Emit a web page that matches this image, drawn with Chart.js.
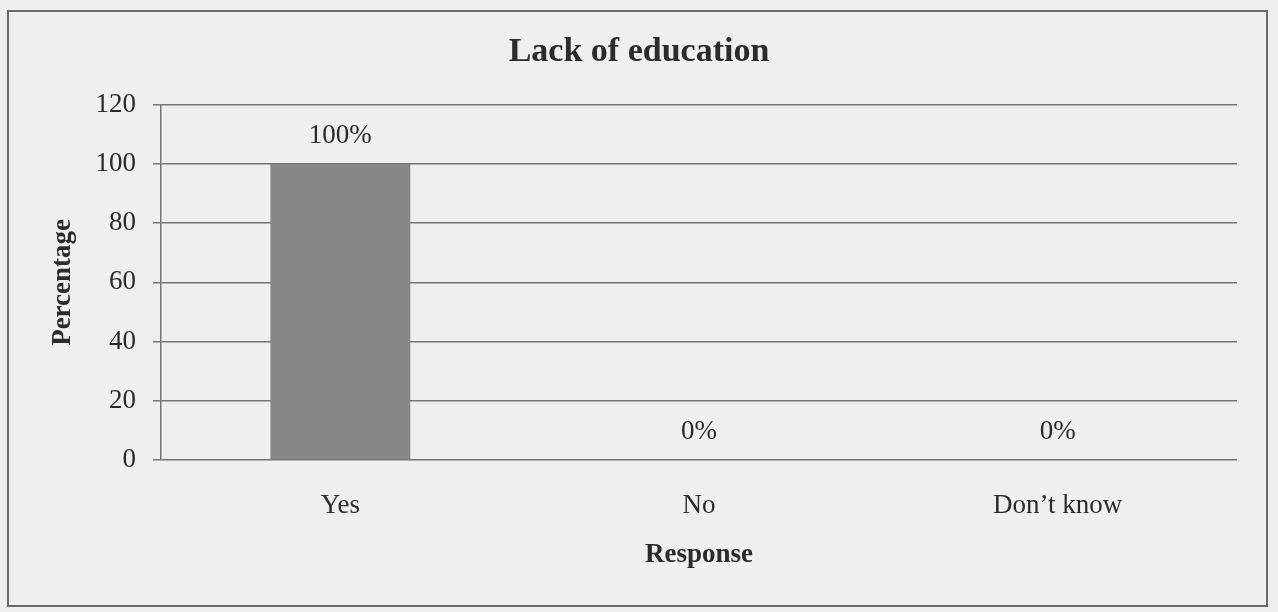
<!DOCTYPE html>
<html>
<head>
<meta charset="utf-8">
<title>Lack of education</title>
<script src="https://cdn.jsdelivr.net/npm/chart.js@4/dist/chart.umd.min.js"></script>
<style>
	html, body { margin: 0; padding: 0; background: #efefef; }
	#wrap { width: 1278px; height: 612px; position: relative; }
</style>
</head>
<body>
<div id="wrap"><canvas id="educationChart"></canvas></div>
<script>
var responses = ['Yes', 'No', 'Don\u2019t know'];
var percentages = [100, 0, 0];
var yTicks = [0, 20, 40, 60, 80, 100, 120];

var ink = '#2b2b2b';
var serif = '"Liberation Serif", "Times New Roman", serif';

// page colour and the frame round the whole chart
var framePlugin = {
	id: 'frame',
	beforeDraw: function(chart) {
		var ctx = chart.ctx;
		ctx.save();
		ctx.fillStyle = '#efefef';
		ctx.fillRect(0, 0, chart.width, chart.height);
		ctx.strokeStyle = '#6a6a6a';
		ctx.lineWidth = 2;
		ctx.strokeRect(8, 11, chart.width - 19, chart.height - 17);
		ctx.restore();
	}
};

// percentage written above each bar
var valueLabels = {
	id: 'valueLabels',
	afterDatasetsDraw: function(chart) {
		var ctx = chart.ctx;
		var meta = chart.getDatasetMeta(0);
		ctx.save();
		ctx.font = '27px ' + serif;
		ctx.fillStyle = ink;
		ctx.textAlign = 'center';
		ctx.textBaseline = 'middle';
		meta.data.forEach(function(bar, i) {
			ctx.fillText(percentages[i] + '%', bar.x, bar.y - 28);
		});
		ctx.restore();
	}
};

var config = {
	type: 'bar',
	data: {
		labels: responses,
		datasets: [{
			data: percentages,
			backgroundColor: '#878787',
			borderWidth: 0,
			barPercentage: 0.39,
			categoryPercentage: 1
		}]
	},
	options: {
		responsive: true,
		maintainAspectRatio: false,
		animation: false,
		layout: { padding: { left: 41, right: 41, top: 0, bottom: 0 } },
		plugins: {
			legend: { display: false },
			tooltip: { enabled: false },
			title: {
				display: true,
				text: 'Lack of education',
				color: ink,
				font: { family: serif, size: 34, weight: 'bold' },
				padding: { top: 32, bottom: 32 }
			}
		},
		scales: {
			x: {
				grid: { display: false },
				border: { display: false },
				ticks: {
					color: ink,
					padding: 22,
					font: { family: serif, size: 27 }
				},
				title: {
					display: true,
					text: 'Response',
					color: ink,
					font: { family: serif, size: 27, weight: 'bold' },
					padding: { top: 0, bottom: 41 }
				},
				afterFit: function(scale) { scale.height = 152; }
			},
			y: {
				min: 0,
				max: 120,
				afterBuildTicks: function(scale) {
					scale.ticks = yTicks.map(function(v) { return { value: v }; });
				},
				grid: {
					color: '#747474',
					lineWidth: 1.5,
					tickLength: 8
				},
				border: { display: true, color: '#747474', width: 1.5 },
				ticks: {
					color: ink,
					padding: 17,
					font: { family: serif, size: 27 }
				},
				title: {
					display: true,
					text: 'Percentage',
					color: ink,
					font: { family: serif, size: 27, weight: 'bold' },
					padding: { top: 6, bottom: 0 }
				},
				afterFit: function(scale) { scale.width = 120; }
			}
		}
	},
	plugins: [framePlugin, valueLabels]
};

window.onload = function() {
	var ctx = document.getElementById('educationChart').getContext('2d');
	window.educationChart = new Chart(ctx, config);
};
</script>
</body>
</html>
